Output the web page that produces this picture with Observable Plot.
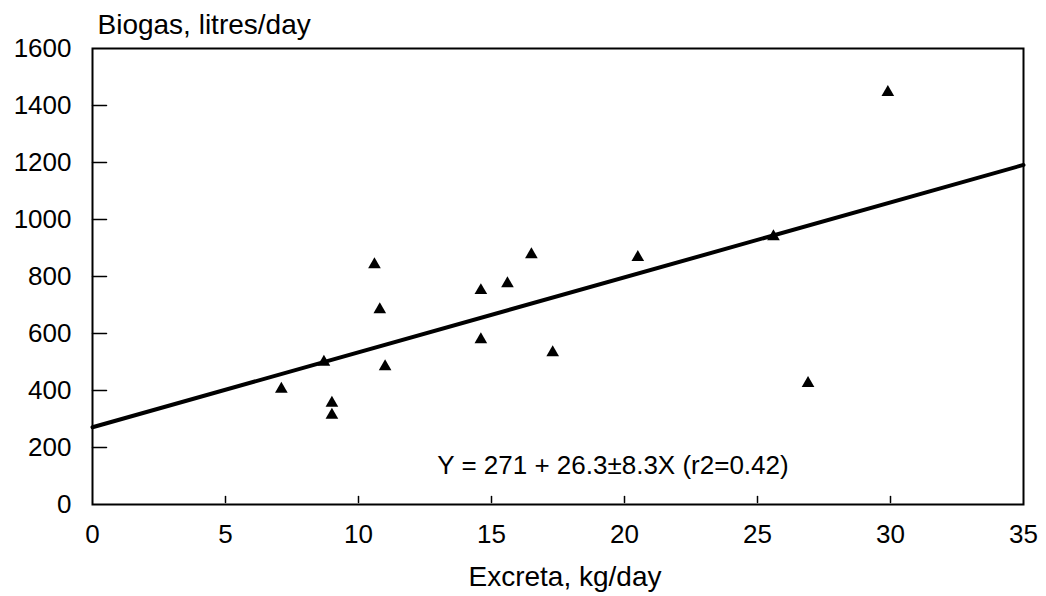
<!DOCTYPE html>
<html><head><meta charset="utf-8">
<script src="https://cdn.jsdelivr.net/npm/d3@7"></script>
<script src="https://cdn.jsdelivr.net/npm/@observablehq/plot@0.6"></script>
<style>body{margin:0;background:#fff;font-family:"Liberation Sans",Arial,sans-serif;}</style>
</head><body><div id="chart"></div>
<script>
const excreta = [7.1, 8.7, 9.0, 9.0, 10.6, 10.8, 11.0, 14.6, 14.6, 15.6, 16.5, 17.3, 20.5, 25.6, 26.9, 29.9];
const biogas  = [405, 500, 356, 314, 842, 684, 484, 751, 579, 775, 877, 533, 867, 940, 425, 1446];
const intercept = 271;
const slope = 26.3;
const xTicks = [0, 5, 10, 15, 20, 25, 30, 35];
const yTicks = [0, 200, 400, 600, 800, 1000, 1200, 1400, 1600];
const xTitle = "Excreta, kg/day";
const yTitle = "Biogas, litres/day";
const equation = "Y = 271 + 26.3±8.3X (r2=0.42)";

const points = excreta.map((x, i) => ({x, y: biogas[i]}));
const xDomain = [xTicks[0], xTicks[xTicks.length - 1]];
const fit = xDomain.map(x => ({x, y: intercept + slope * x}));
const tickShape = {draw(context, l) { context.moveTo(0, 0); context.lineTo(0, -l); }};

const chart = Plot.plot({
  width: 1046,
  height: 596,
  marginLeft: 92,
  marginRight: 23,
  marginTop: 48,
  marginBottom: 92,
  style: {fontFamily: '"Liberation Sans", Arial, sans-serif', fontSize: "26px", color: "#000", background: "#fff"},
  x: {domain: xDomain, ticks: xTicks},
  y: {domain: [yTicks[0], yTicks[yTicks.length - 1]], ticks: yTicks},
  marks: [
    Plot.frame({stroke: "#000", strokeWidth: 2}),
    // inward tick marks
    Plot.vector(xTicks.slice(1, -1), {x: d => d, frameAnchor: "bottom", dy: -2, length: 6, rotate: 0, anchor: "start", shape: tickShape, stroke: "#000", strokeWidth: 1.5}),
    Plot.vector(yTicks.slice(1, -1), {y: d => d, frameAnchor: "left", length: 14, rotate: 90, anchor: "start", shape: tickShape, stroke: "#000", strokeWidth: 1.5}),
    // tick labels
    Plot.axisX(xTicks, {tickSize: 0, tickPadding: 20, fontSize: 26, label: null, tickFormat: d => String(d)}),
    Plot.axisY(yTicks, {tickSize: 0, tickPadding: 21, fontSize: 26, label: null, tickFormat: d => String(d)}),
    Plot.line(fit, {x: "x", y: "y", stroke: "#000", strokeWidth: 4}),
    Plot.dot(points, {x: "x", y: "y", symbol: "triangle", r: 4.7, fill: "#000", stroke: "none"}),
    Plot.text([equation], {frameAnchor: "bottom", dx: 55, dy: -31, lineAnchor: "bottom", fontSize: 26}),
    Plot.text([yTitle], {frameAnchor: "top-left", dx: 5, dy: -15, textAnchor: "start", lineAnchor: "bottom", fontSize: 28}),
    Plot.text([xTitle], {frameAnchor: "bottom", dx: 7, dy: 81, lineAnchor: "bottom", fontSize: 28})
  ]
});
document.getElementById("chart").append(chart);
</script>
</body></html>
